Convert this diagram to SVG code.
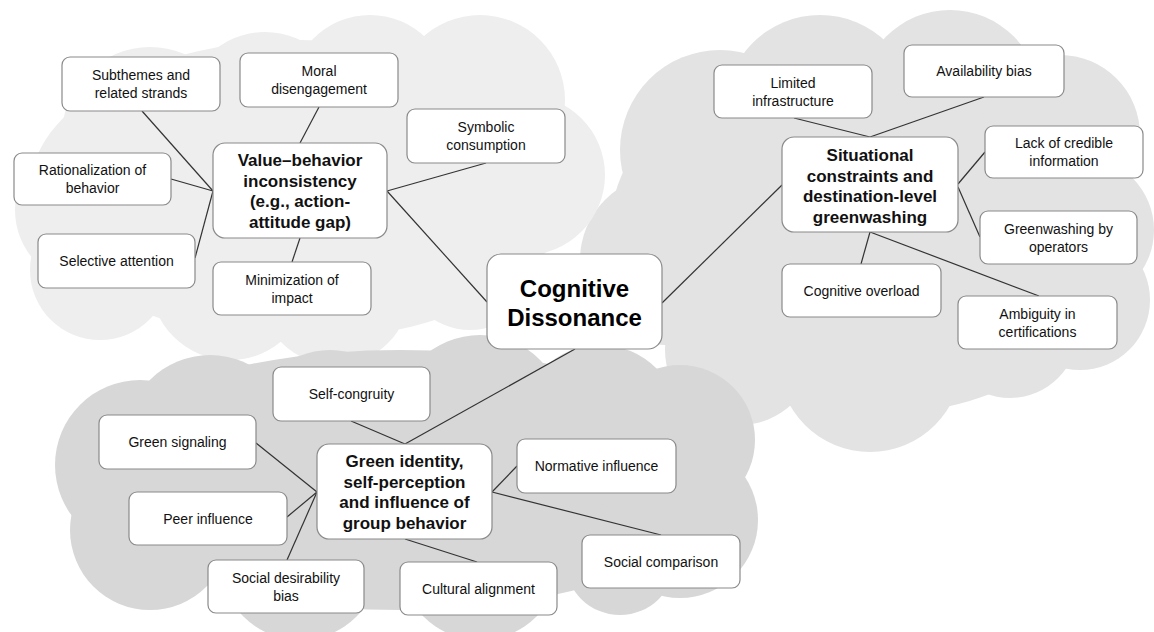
<svg xmlns="http://www.w3.org/2000/svg" width="1154" height="632" viewBox="0 0 1154 632">
<style>
.bg{fill:#ffffff}
.c1{fill:#eeeeee}
.c2{fill:#e3e3e3}
.c3{fill:#d7d7d7}
.box{fill:#ffffff;stroke:#8a8a8a;stroke-width:1.2}
.t{font-family:"Liberation Sans",Arial,sans-serif;font-size:14px;fill:#111;text-anchor:middle}
.h{font-family:"Liberation Sans",Arial,sans-serif;font-size:17px;font-weight:bold;fill:#111;text-anchor:middle}
.m{font-family:"Liberation Sans",Arial,sans-serif;font-size:24px;font-weight:bold;fill:#000;text-anchor:middle}
.ln{stroke:#333;stroke-width:1.2;fill:none}
</style>
<rect class="bg" x="0" y="0" width="1154" height="632"/>
<g id="cloud-right" class="c2">
<ellipse cx="870" cy="230" rx="260" ry="185"/>
<circle cx="720" cy="150" r="100"/>
<circle cx="820" cy="110" r="95"/>
<circle cx="950" cy="100" r="90"/>
<circle cx="1060" cy="135" r="80"/>
<circle cx="1080" cy="230" r="74"/>
<circle cx="1080" cy="300" r="70"/>
<circle cx="1010" cy="330" r="68"/>
<circle cx="870" cy="360" r="92"/>
<circle cx="740" cy="350" r="75"/>
<circle cx="665" cy="260" r="85"/>
</g>
<g id="cloud-left" class="c1">
<ellipse cx="300" cy="190" rx="270" ry="150"/>
<circle cx="150" cy="135" r="88"/>
<circle cx="265" cy="112" r="80"/>
<circle cx="370" cy="95" r="80"/>
<circle cx="480" cy="100" r="85"/>
<circle cx="525" cy="175" r="80"/>
<circle cx="90" cy="210" r="75"/>
<circle cx="100" cy="270" r="70"/>
<circle cx="230" cy="280" r="80"/>
<circle cx="335" cy="290" r="75"/>
<circle cx="470" cy="262" r="68"/>
</g>
<g id="cloud-bottom" class="c3">
<ellipse cx="400" cy="480" rx="330" ry="130"/>
<circle cx="140" cy="465" r="85"/>
<circle cx="150" cy="530" r="80"/>
<circle cx="210" cy="440" r="85"/>
<circle cx="330" cy="430" r="80"/>
<circle cx="480" cy="420" r="85"/>
<circle cx="600" cy="425" r="80"/>
<circle cx="680" cy="440" r="75"/>
<circle cx="680" cy="520" r="78"/>
<circle cx="300" cy="560" r="80"/>
<circle cx="480" cy="560" r="80"/>
<circle cx="620" cy="560" r="55"/>
</g>
<g id="connectors" class="ln">
<line x1="142" y1="111" x2="213" y2="191"/>
<line x1="171" y1="179" x2="213" y2="191"/>
<line x1="195" y1="258" x2="213" y2="191"/>
<line x1="319" y1="107" x2="300" y2="143"/>
<line x1="486" y1="163" x2="387" y2="191"/>
<line x1="300" y1="238" x2="292" y2="262"/>
<line x1="387" y1="191" x2="487" y2="302"/>
<line x1="794" y1="118" x2="870" y2="137"/>
<line x1="984" y1="97" x2="870" y2="137"/>
<line x1="985" y1="152" x2="958" y2="184"/>
<line x1="980" y1="237" x2="958" y2="187"/>
<line x1="861" y1="264" x2="870" y2="232"/>
<line x1="870" y1="232" x2="1039" y2="296"/>
<line x1="662" y1="303" x2="782" y2="185"/>
<line x1="351" y1="421" x2="405" y2="444"/>
<line x1="405" y1="444" x2="575" y2="349"/>
<line x1="256" y1="443" x2="317" y2="492"/>
<line x1="287" y1="517" x2="317" y2="492"/>
<line x1="287" y1="560" x2="317" y2="492"/>
<line x1="405" y1="539" x2="477" y2="562"/>
<line x1="492" y1="492" x2="517" y2="466"/>
<line x1="492" y1="492" x2="661" y2="535"/>
</g>
<g id="n-subthemes"><rect class="box" x="62" y="57" width="158" height="54" rx="8"/><text class="t" x="141" y="80">Subthemes and<tspan x="141" dy="18">related strands</tspan></text></g>
<g id="n-moral"><rect class="box" x="240" y="53" width="158" height="54" rx="8"/><text class="t" x="319" y="76">Moral<tspan x="319" dy="18">disengagement</tspan></text></g>
<g id="n-symbolic"><rect class="box" x="407" y="109" width="158" height="54" rx="8"/><text class="t" x="486" y="132">Symbolic<tspan x="486" dy="18">consumption</tspan></text></g>
<g id="n-rationalization"><rect class="box" x="14" y="153" width="157" height="52" rx="8"/><text class="t" x="92.5" y="175">Rationalization of<tspan x="92.5" dy="18">behavior</tspan></text></g>
<g id="n-selective"><rect class="box" x="38" y="234" width="157" height="54" rx="8"/><text class="t" x="116.5" y="266">Selective attention</text></g>
<g id="n-minimization"><rect class="box" x="213" y="262" width="158" height="53" rx="8"/><text class="t" x="292" y="284.5">Minimization of<tspan x="292" dy="18">impact</tspan></text></g>
<g id="n-value-behavior"><rect class="box" x="213" y="143" width="174" height="95" rx="12"/><text class="h" x="300" y="166">Value–behavior<tspan x="300" dy="20.7">inconsistency</tspan><tspan x="300" dy="20.7">(e.g., action-</tspan><tspan x="300" dy="20.7">attitude gap)</tspan></text></g>
<g id="n-cognitive-dissonance"><rect class="box" x="487" y="254" width="175" height="95" rx="14"/><text class="m" x="574.5" y="297">Cognitive<tspan x="574.5" dy="29">Dissonance</tspan></text></g>
<g id="n-limited"><rect class="box" x="714" y="65" width="158" height="53" rx="8"/><text class="t" x="793" y="87.5">Limited<tspan x="793" dy="18">infrastructure</tspan></text></g>
<g id="n-availability"><rect class="box" x="904" y="45" width="160" height="52" rx="8"/><text class="t" x="984" y="76">Availability bias</text></g>
<g id="n-situational"><rect class="box" x="782" y="137" width="176" height="95" rx="12"/><text class="h" x="870" y="161">Situational<tspan x="870" dy="20.7">constraints and</tspan><tspan x="870" dy="20.7">destination-level</tspan><tspan x="870" dy="20.7">greenwashing</tspan></text></g>
<g id="n-lack"><rect class="box" x="985" y="126" width="158" height="52" rx="8"/><text class="t" x="1064" y="148">Lack of credible<tspan x="1064" dy="18">information</tspan></text></g>
<g id="n-greenwashing"><rect class="box" x="980" y="211" width="157" height="53" rx="8"/><text class="t" x="1058.5" y="233.5">Greenwashing by<tspan x="1058.5" dy="18">operators</tspan></text></g>
<g id="n-overload"><rect class="box" x="782" y="264" width="159" height="53" rx="8"/><text class="t" x="861.5" y="295.5">Cognitive overload</text></g>
<g id="n-ambiguity"><rect class="box" x="958" y="296" width="159" height="53" rx="8"/><text class="t" x="1037.5" y="318.5">Ambiguity in<tspan x="1037.5" dy="18">certifications</tspan></text></g>
<g id="n-self-congruity"><rect class="box" x="273" y="367" width="157" height="54" rx="8"/><text class="t" x="351.5" y="399">Self-congruity</text></g>
<g id="n-green-signaling"><rect class="box" x="99" y="415" width="157" height="54" rx="8"/><text class="t" x="177.5" y="447">Green signaling</text></g>
<g id="n-green-identity"><rect class="box" x="317" y="444" width="175" height="95" rx="12"/><text class="h" x="404.5" y="467">Green identity,<tspan x="404.5" dy="20.7">self-perception</tspan><tspan x="404.5" dy="20.7">and influence of</tspan><tspan x="404.5" dy="20.7">group behavior</tspan></text></g>
<g id="n-peer"><rect class="box" x="129" y="492" width="158" height="53" rx="8"/><text class="t" x="208" y="523.5">Peer influence</text></g>
<g id="n-social-desirability"><rect class="box" x="208" y="560" width="156" height="53" rx="8"/><text class="t" x="286" y="582.5">Social desirability<tspan x="286" dy="18">bias</tspan></text></g>
<g id="n-cultural"><rect class="box" x="400" y="562" width="157" height="53" rx="8"/><text class="t" x="478.5" y="593.5">Cultural alignment</text></g>
<g id="n-normative"><rect class="box" x="517" y="439" width="159" height="54" rx="8"/><text class="t" x="596.5" y="471">Normative influence</text></g>
<g id="n-social-comparison"><rect class="box" x="582" y="535" width="158" height="53" rx="8"/><text class="t" x="661" y="566.5">Social comparison</text></g>
</svg>
